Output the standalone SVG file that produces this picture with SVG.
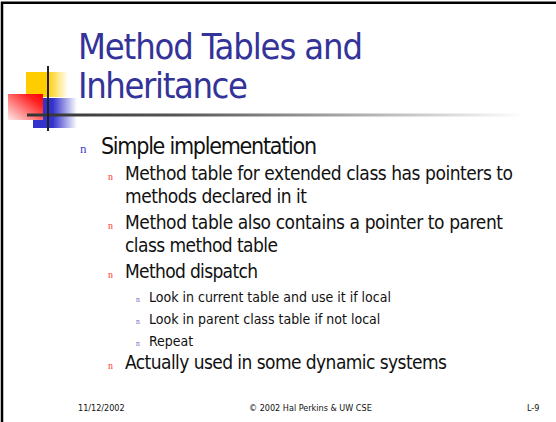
<svg xmlns="http://www.w3.org/2000/svg" width="556" height="422" viewBox="0 0 556 422">
<defs>
<linearGradient id="gY" x1="0" y1="0" x2="1" y2="0"><stop offset="0" stop-color="#ffcc00"/><stop offset="0.5" stop-color="#ffcc00"/><stop offset="1" stop-color="#ffffff"/></linearGradient>
<linearGradient id="gB" x1="0" y1="0" x2="1" y2="0"><stop offset="0" stop-color="#3333cc"/><stop offset="0.45" stop-color="#3333cc"/><stop offset="1" stop-color="#ffffff"/></linearGradient>
<linearGradient id="gR" x1="1" y1="0" x2="0" y2="1"><stop offset="0" stop-color="#ff0000"/><stop offset="0.25" stop-color="#ff2222"/><stop offset="1" stop-color="#ffeaea"/></linearGradient>
<linearGradient id="gL" gradientUnits="userSpaceOnUse" x1="27" y1="0" x2="525" y2="0"><stop offset="0" stop-color="#333333"/><stop offset="0.3" stop-color="#555555"/><stop offset="1" stop-color="#ffffff"/></linearGradient>
<style>
.f{font-family:"DejaVu Sans Condensed","DejaVu Sans","Liberation Sans",sans-serif}
.title{font-size:36px;fill:#333399}
.l1{font-size:23px;fill:#111}
.l2{font-size:19px;fill:#111}
.l3{font-size:14px;fill:#111}
.ft{font-size:9px;fill:#111}
.b{font-family:"Liberation Serif",serif}
.b1{font-size:13px;fill:#4444cc}
.b2{font-size:10px;fill:#ff3333}
.b3{font-size:7.5px;fill:#6666cc}
</style>
</defs>
<rect width="556" height="422" fill="#ffffff"/>
<path d="M2,424 V2.7 H560" fill="none" stroke="#000" stroke-width="2.5"/>
<g id="logo">
<rect x="26" y="72" width="42" height="25" fill="url(#gY)"/>
<rect x="33" y="98" width="44" height="30" fill="url(#gB)"/>
<rect x="8" y="94" width="35" height="26" fill="url(#gR)"/>
<rect x="27" y="113.5" width="498" height="3" fill="url(#gL)"/>
<rect x="47" y="66" width="2" height="65" fill="#222"/>
</g>
<g id="title" class="f title">
<text x="78" y="59" textLength="285" lengthAdjust="spacing">Method Tables and</text>
<text x="78" y="98" textLength="170" lengthAdjust="spacing">Inheritance</text>
</g>
<g id="bullets" class="b">
<text class="b1" x="80" y="153">n</text>
<text class="b2" x="108" y="180">n</text>
<text class="b2" x="108" y="229">n</text>
<text class="b2" x="108" y="278">n</text>
<text class="b3" x="136" y="302">n</text>
<text class="b3" x="136" y="324">n</text>
<text class="b3" x="136" y="346">n</text>
<text class="b2" x="108" y="369">n</text>
</g>
<g id="body" class="f">
<text class="l1" x="101" y="154" textLength="216" lengthAdjust="spacing">Simple implementation</text>
<text class="l2" x="125" y="180" textLength="388" lengthAdjust="spacing">Method table for extended class has pointers to</text>
<text class="l2" x="125" y="203" textLength="182" lengthAdjust="spacing">methods declared in it</text>
<text class="l2" x="125" y="229" textLength="378" lengthAdjust="spacing">Method table also contains a pointer to parent</text>
<text class="l2" x="125" y="252" textLength="153" lengthAdjust="spacing">class method table</text>
<text class="l2" x="125" y="278" textLength="133" lengthAdjust="spacing">Method dispatch</text>
<text class="l3" x="149" y="302">Look in current table and use it if local</text>
<text class="l3" x="149" y="324">Look in parent class table if not local</text>
<text class="l3" x="149" y="346">Repeat</text>
<text class="l2" x="125" y="369" textLength="322" lengthAdjust="spacing">Actually used in some dynamic systems</text>
</g>
<g id="footer" class="f ft">
<text x="78" y="411">11/12/2002</text>
<text x="249" y="411">© 2002 Hal Perkins &amp; UW CSE</text>
<text x="527" y="411">L-9</text>
</g>
</svg>
